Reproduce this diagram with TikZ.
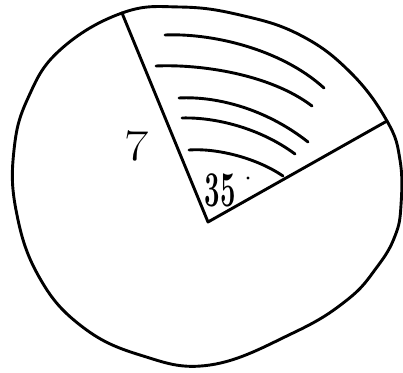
\documentclass[tikz,border=0pt]{standalone}
\usepackage{tikz}
\usetikzlibrary{calc}

\begin{document}
\begin{tikzpicture}[x=1pt,y=-1pt,line width=2.9pt,line cap=round,line join=round]
	 \useasboundingbox(0,0)rectangle(403,372);
	 \coordinate(O)at(208,222);\coordinate(A)at(122,13);\coordinate(B)at(387,121);
	 % hand drawn circle
	 \draw plot[smooth cycle,tension=.7]coordinates{(A)(180,7)(240,15)(300,35)(350,72)(B)(400,160)(401,205)(395,236)(377,267)(347,300)(293,333)(210,365)(140,355)(80,325)(38,275)(16,210)(14,150)(28,98)(60,50)};
	 \draw(A)--(O)--(B);
	 % shading of the sector
	 \draw(165,35)..controls(210,33)and(280,48)..(324,88);
	 \draw(156,66)..controls(200,64)and(270,74)..(312,106);
	 \draw(179,98)..controls(215,96)and(265,108)..(308,142);
	 \draw(182,118)..controls(215,117)and(260,128)..(295,154);
	 \draw(189,150)..controls(215,148)and(255,157)..(283,176);
	 \node(r)at(137,146)[xscale=1.2]{\fontsize{44}{44}\selectfont 7};
	 \node(ang)at(220,190)[xscale=.55]{\fontsize{50}{50}\selectfont\bfseries 35};
	 \fill(248,178)circle(1.6pt);
\end{tikzpicture}
\end{document}
